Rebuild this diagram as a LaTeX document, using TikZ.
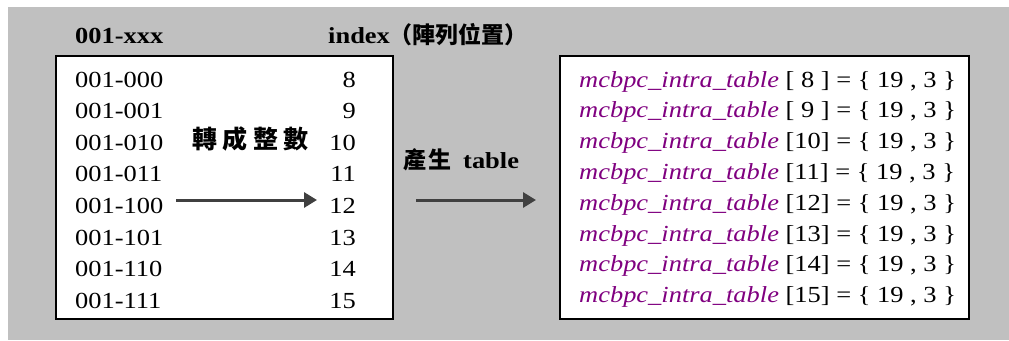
\documentclass[tikz,border=0pt]{standalone}
\usepackage{fontspec}
\setmainfont[FakeStretch=1.15]{Liberation Serif}
\newfontfamily\cjk[FakeStretch=1.0]{Noto Sans CJK TC}
\usetikzlibrary{arrows.meta}
\definecolor{bg}{HTML}{C0C0C0}
\definecolor{arr}{HTML}{404040}
\definecolor{purp}{HTML}{800080}
\tikzset{
  txt/.style={anchor=base west,inner sep=0pt,font=\fontsize{23}{23}\selectfont},
  num/.style={anchor=base east,inner sep=0pt,font=\fontsize{23}{23}\selectfont},
  hdr/.style={anchor=base west,inner sep=0pt,font=\fontsize{23}{23}\selectfont\bfseries},
  panel/.style={draw=black,fill=white,line width=1.6pt},
  bigarrow/.style={draw=arr,line width=3pt,-{Triangle[length=13pt,width=15pt]}}
}
\newcommand{\cj}[1]{{\cjk\bfseries #1}}
\begin{document}
\begin{tikzpicture}[x=1pt,y=-1pt]
\useasboundingbox (0,0) rectangle (1009,340);
\fill[bg] (8,7) rectangle (1009,340);
% headers
\node[hdr] (h1) at (75,43) {001-xxx};
\node[hdr] (h2) at (328,43) {index\cj{（陣列位置）}};
% panels
\node[panel,minimum width=337pt,minimum height=263pt,anchor=north west] (lbox) at (55,55) {};
\node[panel,minimum width=409pt,minimum height=263pt,anchor=north west] (rbox) at (559,55) {};
% left column
\foreach \b [count=\i from 0] in {000,001,010,011,100,101,110,111}{
  \node[txt] (b\i) at (75,{87+31.6*\i}) {001-\b};
}
\foreach \n [count=\i from 0] in {8,...,15}{
  \node[num] (n\i) at (356,{87+31.6*\i}) {\n};
}
\node[hdr] (conv) at (192,148) {\cj{\fontsize{25}{25}\selectfont 轉\hspace{5.5pt}成\hspace{5.5pt}整\hspace{5.5pt}數}};
\coordinate (a1s) at (176,200);
\coordinate (a1e) at (317,200);
\draw[bigarrow] (a1s) -- (a1e);
% middle
\node[hdr] (gen) at (403,168) {\cj{產\hspace{2pt}生}\hspace{12pt}table};
\coordinate (a2s) at (416,200);
\coordinate (a2e) at (536,200);
\draw[bigarrow] (a2s) -- (a2e);
% right column
\foreach \k [count=\i from 0] in {{\ 8\ },{\ 9\ },10,11,12,13,14,15}{
  \node[txt] (t\i) at (579,{87+30.8*\i}) {\textcolor{purp}{\itshape mcbpc\_intra\_table} [\k] = \{ 19 , 3 \}};
}
\end{tikzpicture}
\end{document}
